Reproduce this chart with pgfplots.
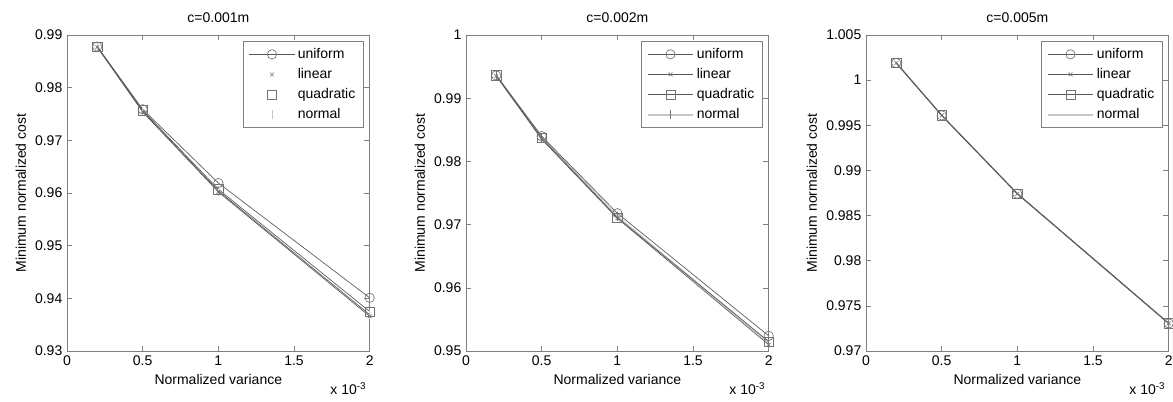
\documentclass[border=0pt]{standalone}
\usepackage{fontspec}
\setmainfont{Liberation Sans}
\usepackage{pgfplots}
\pgfplotsset{compat=1.18}

\definecolor{frame}{gray}{0.5}
\definecolor{ln}{gray}{0.35}
\definecolor{mk}{gray}{0.45}
\definecolor{lt}{gray}{0.78}

\newcommand{\fs}{\fontsize{10.5}{12}\selectfont}

\pgfplotsset{
 mstyle/.style={
  scale only axis, width=227pt, height=237pt, anchor=south west,
  axis line style={frame, line width=0.5pt},
  tick style={frame, line width=0.4pt}, tick align=inside, major tick length=4pt,
  xmin=0, xmax=2,
  xtick={0,0.5,1,1.5,2}, xticklabels={0,0.5,1,1.5,2},
  ticklabel style={font=\fs},
  label style={font=\fs},
  title style={font=\fs},
  xlabel={Normalized variance}, ylabel={Minimum normalized cost},
  legend style={at={(rel axis cs:0.98,0.98)}, anchor=north east, draw=frame, font=\fs, row sep=2pt, inner xsep=4pt, inner ysep=3pt},
  legend cell align=left,
  legend image code/.code={\draw[mark repeat=2,mark phase=2,##1] plot coordinates {(0cm,0cm) (0.6cm,0cm) (1.2cm,0cm)};},
  every axis plot/.append style={line width=0.5pt},
  unif/.style={ln, mark=o, mark size=3.5pt, mark options={solid, draw=mk}},
  lin/.style={ln, mark=x, mark size=2pt, mark options={solid, draw=mk}},
  quad/.style={ln, mark=square, mark size=3.5pt, mark options={solid, draw=mk}},
  norm/.style={lt, line width=1.2pt, mark=|, mark size=3.5pt, mark options={solid, draw=mk, line width=0.5pt}},
  after end axis/.append code={\node[anchor=east, font=\fs] at (rel axis cs:1,0) [xshift=1pt, yshift=-28pt] {x 10\textsuperscript{-3}};},
 },
}

\begin{document}
\begin{tikzpicture}
\path[use as bounding box] (0,0) rectangle (879.75pt,300.75pt);

% Panel 1
\begin{axis}[mstyle, at={(50.25pt,37.5pt)}, title={c=0.001m},
  ymin=0.93, ymax=0.99, ytick={0.93,0.94,0.95,0.96,0.97,0.98,0.99},
  yticklabels={0.93,0.94,0.95,0.96,0.97,0.98,0.99}]
\addplot[ln, mark=|, mark size=3.5pt, mark options={solid, draw=lt}, forget plot] coordinates {(0.2,0.9877)(0.5,0.9755)(1,0.9604)(2,0.9369)};
\addplot[lin, forget plot] coordinates {(0.2,0.9877)(0.5,0.9754)(1,0.9602)(2,0.9366)};
\addplot[quad, forget plot] coordinates {(0.2,0.9878)(0.5,0.9757)(1,0.9607)(2,0.9375)};
\addplot[unif, forget plot] coordinates {(0.2,0.9878)(0.5,0.9759)(1,0.9619)(2,0.9401)};
\addlegendimage{unif}
\addlegendimage{only marks, mark=x, mark size=2pt, mk}
\addlegendimage{only marks, mark=square, mark size=3.5pt, mk}
\addlegendimage{only marks, mark=|, mark size=3.5pt, lt}
\legend{uniform,linear,quadratic,normal}
\end{axis}

% Panel 2
\begin{axis}[mstyle, at={(349.5pt,37.5pt)}, title={c=0.002m},
  ymin=0.95, ymax=1, ytick={0.95,0.96,0.97,0.98,0.99,1},
  yticklabels={0.95,0.96,0.97,0.98,0.99,1}]
\addplot[norm, forget plot] coordinates {(0.2,0.9936)(0.5,0.9838)(1,0.9713)(2,0.9513)};
\addplot[lin, forget plot] coordinates {(0.2,0.9935)(0.5,0.9835)(1,0.9710)(2,0.9510)};
\addplot[quad, forget plot] coordinates {(0.2,0.9936)(0.5,0.9837)(1,0.9711)(2,0.9515)};
\addplot[unif, forget plot] coordinates {(0.2,0.9936)(0.5,0.9840)(1,0.9718)(2,0.9524)};
\addlegendimage{unif}
\addlegendimage{lin}
\addlegendimage{quad}
\addlegendimage{norm}
\legend{uniform,linear,quadratic,normal}
\end{axis}

% Panel 3
\begin{axis}[mstyle, at={(649.5pt,37.5pt)}, title={c=0.005m},
  ymin=0.97, ymax=1.005, ytick={0.97,0.975,0.98,0.985,0.99,0.995,1,1.005},
  yticklabels={0.97,0.975,0.98,0.985,0.99,0.995,1,1.005}]
\addplot[norm, mark=none, forget plot] coordinates {(0.2,1.0019)(0.5,0.9961)(1,0.98742)(2,0.97306)};
\addplot[lin, forget plot] coordinates {(0.2,1.0019)(0.5,0.9961)(1,0.98742)(2,0.97306)};
\addplot[quad, forget plot] coordinates {(0.2,1.0019)(0.5,0.9961)(1,0.98742)(2,0.97306)};
\addplot[unif, forget plot] coordinates {(0.2,1.0019)(0.5,0.9961)(1,0.98742)(2,0.97306)};
\addlegendimage{unif}
\addlegendimage{lin}
\addlegendimage{quad}
\addlegendimage{norm, mark=none}
\legend{uniform,linear,quadratic,normal}
\end{axis}
\end{tikzpicture}
\end{document}
